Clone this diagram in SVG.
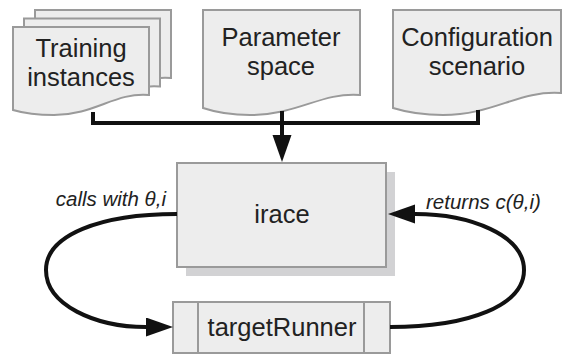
<svg xmlns="http://www.w3.org/2000/svg" width="564" height="355" viewBox="0 0 564 355">
<defs>
<style>
.doc{fill:#ededed;stroke:#9a9a9a;stroke-width:2;stroke-linejoin:miter}
.box{fill:#ededed;stroke:#9a9a9a;stroke-width:2}
.t{font-family:"Liberation Sans",Arial,sans-serif;font-size:25.5px;fill:#222;text-anchor:middle}
.lab{font-family:"Liberation Sans",Arial,sans-serif;font-size:20.5px;font-style:italic;fill:#222}
.con{fill:none;stroke:#111;stroke-width:4}
</style>
<marker id="ah" markerUnits="userSpaceOnUse" markerWidth="28" markerHeight="20" refX="0" refY="9.5" orient="auto">
<path d="M0,0 L27,9.5 L0,19 Z" fill="#111"/>
</marker>
</defs>
<rect width="564" height="355" fill="#fff"/>

<g id="training">
<path class="doc" d="M35,10 H171 V78 C137,75 117,98 76,98 C60,98 45,96 35,93 Z"/>
<path class="doc" d="M24,18.5 H160 V86.5 C126,83.5 106,106.5 65,106.5 C49,106.5 34,104.5 24,101.5 Z"/>
<path class="doc" d="M13,27 H149 V95 C115,92 95,115 54,115 C38,115 23,113 13,110 Z"/>
<text class="t" x="81" y="56.5">Training</text>
<text class="t" x="81" y="86">instances</text>
</g>

<g id="parameter">
<path class="doc" d="M203,10 H360 V95 C321,92 298,115 250,115 C232,115 215,112 203,108 Z"/>
<text class="t" x="281" y="45.5">Parameter</text>
<text class="t" x="281" y="75">space</text>
</g>

<g id="configuration">
<path class="doc" d="M393,10 H561 V93 C519,90 494,115 443,115 C424,115 406,112 393,108 Z"/>
<text class="t" x="477" y="45.5">Configuration</text>
<text class="t" x="477" y="75">scenario</text>
</g>

<g id="irace">
<rect x="186" y="172" width="209" height="104" fill="#d2d2d4"/>
<rect class="box" x="177" y="163" width="209" height="104"/>
<text class="t" x="282" y="223">irace</text>
</g>

<g id="targetRunner">
<rect class="box" x="173" y="302" width="217" height="51"/>
<line x1="198" y1="302" x2="198" y2="353" stroke="#9a9a9a" stroke-width="2"/>
<line x1="364" y1="302" x2="364" y2="353" stroke="#9a9a9a" stroke-width="2"/>
<text class="t" x="282" y="336">targetRunner</text>
</g>

<g id="connectors">
<path class="con" d="M93,112 V123 H478 V110"/>
<path class="con" d="M282,111 V135" marker-end="url(#ah)"/>
<path class="con" d="M177,214 C100,214 46,235 46,270 C46,305 95,327 146,327" marker-end="url(#ah)"/>
<path class="con" d="M390,327 C470,327 524,305 524,270 C524,235 470,214 415,214" marker-end="url(#ah)"/>
</g>

<text class="lab" x="166" y="206" text-anchor="end">calls with θ,i</text>
<text class="lab" x="426" y="209">returns c(θ,i)</text>
</svg>
